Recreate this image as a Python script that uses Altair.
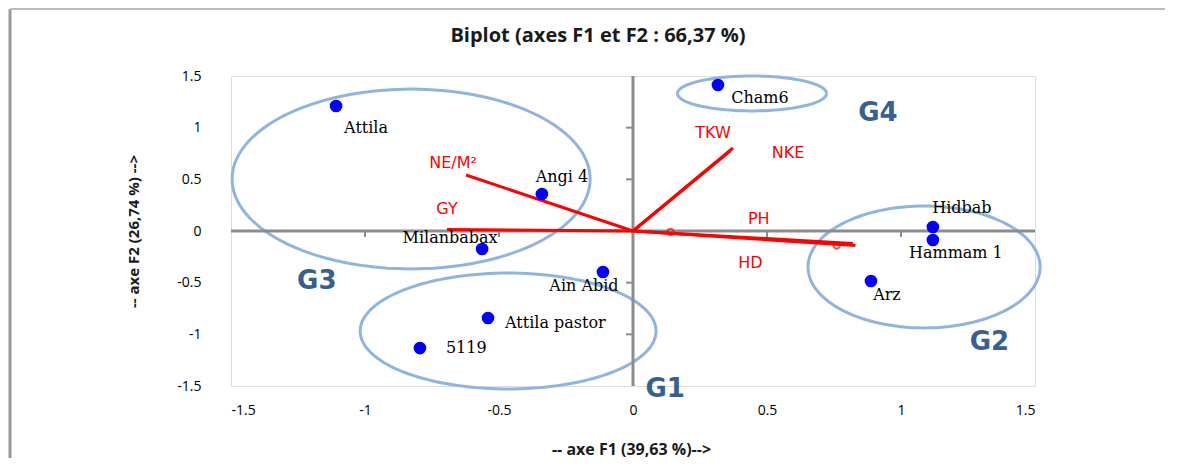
import altair as alt
import numpy as np
import pandas as pd

# ---- data ----
obs_names = ["Attila", "Angi 4", "Milanbabax", "Ain Abid", "Attila pastor",
             "5119", "Cham6", "Hidbab", "Hammam 1", "Arz"]
obs_f1 = [-1.108, -0.340, -0.563, -0.112, -0.541, -0.795, 0.317, 1.119, 1.119, 0.888]
obs_f2 = [1.21, 0.358, -0.174, -0.397, -0.842, -1.133, 1.413, 0.039, -0.087, -0.484]

var_names = ["NE/M²", "GY", "TKW", "NKE", "PH", "HD"]
var_f1 = [-0.623, -0.694, 0.373, 0.362, 0.82, 0.83]
var_f2 = [0.542, 0.015, 0.803, 0.774, -0.12, -0.14]

marker_f1 = [0.14, 0.76]
marker_f2 = [-0.01, -0.14]

group_names = ["G1", "G2", "G3", "G4"]
group_cx = [-0.466, 1.086, -0.828, 0.444]
group_cy = [-0.968, -0.348, 0.503, 1.331]
group_rx = [0.552, 0.433, 0.668, 0.278]
group_ry = [0.561, 0.590, 0.870, 0.169]
group_label_f1 = [0.12, 1.33, -1.18, 0.914]
group_label_f2 = [-1.53, -1.07, -0.48, 1.14]

tick_values = [-1.5, -1, -0.5, 0, 0.5, 1, 1.5]
inner_ticks = [-1, -0.5, 0.5, 1]

title_text = ["Biplot (axes F1 et F2 : 66,37 %)"]

# ---- label placement (pixels) ----
obs_label_dx = [30, 20, -32, -19, 17, 26, 42, 29, 23, 16]
obs_label_dy = [22, -17, -11, 14, 5, 0, 13, -19, 13, 14]
obs_label_align = ["center", "center", "center", "center", "left", "left",
                   "center", "center", "center", "center"]
var_label_dx = [-13, 0, -20, 58, -94, -105]
var_label_dy = [-12, -20, -15, 2, -24, 18]

# ---- tables ----
obs = pd.DataFrame({"name": obs_names, "f1": obs_f1, "f2": obs_f2})
var = pd.DataFrame({"name": var_names, "f1": var_f1, "f2": var_f2,
                    "x0": 0.0, "y0": 0.0})
markers = pd.DataFrame({"f1": marker_f1, "f2": marker_f2})

rows = []
theta = np.linspace(0, 2 * np.pi, 145)
for g, cx, cy, rx, ry in zip(group_names, group_cx, group_cy, group_rx, group_ry):
    for i, t in enumerate(theta):
        rows.append({"group": g, "i": i, "f1": cx + rx * np.cos(t), "f2": cy + ry * np.sin(t)})
ell = pd.DataFrame(rows)
glabels = pd.DataFrame({"name": group_names, "f1": group_label_f1, "f2": group_label_f2})

zero_lines = pd.DataFrame({"x": [-1.5, 0.0], "y": [0.0, -1.5], "x2": [1.5, 0.0], "y2": [0.0, 1.5]})
vticks = pd.DataFrame({"v": inner_ticks})

xs = alt.Scale(domain=[-1.5, 1.5], nice=False, zero=False)
ys = alt.Scale(domain=[-1.5, 1.5], nice=False, zero=False)

GRAY = "#8C8C8C"
AXFONT = "Open Sans"

x_axis = alt.Axis(values=tick_values, labelExpr="'' + datum.value", domain=False, ticks=False,
                  grid=False, labelPadding=17, labelFont=AXFONT, labelFontSize=14,
                  labelColor="#000000", title="-- axe F1 (39,63 %)-->", titleFont=AXFONT,
                  titleFontSize=16, titleFontWeight="bold", titleColor="#1a1a1a",
                  titleX=400, titleY=63, titleAlign="center", titleBaseline="middle")
y_axis = alt.Axis(values=tick_values, labelExpr="'' + datum.value", domain=False, ticks=False,
                  grid=False, labelPadding=30, labelFont=AXFONT, labelFontSize=14,
                  labelColor="#000000", title="-- axe F2 (26,74 %) -->", titleFont=AXFONT,
                  titleFontSize=15, titleFontWeight="bold", titleColor="#1a1a1a",
                  titleX=-98, titleY=155, titleAlign="center", titleBaseline="middle")

zero = alt.Chart(zero_lines).mark_rule(color=GRAY, strokeWidth=3).encode(
    x=alt.X("x:Q", scale=xs, axis=x_axis),
    y=alt.Y("y:Q", scale=ys, axis=y_axis),
    x2="x2:Q", y2="y2:Q")

ticks_v = alt.Chart(vticks).mark_rule(color=GRAY, strokeWidth=2, x2Offset=-7).encode(
    x=alt.datum(0, scale=xs), x2=alt.datum(0), y=alt.Y("v:Q", scale=ys))
ticks_h = alt.Chart(vticks).mark_rule(color=GRAY, strokeWidth=2, y2Offset=6).encode(
    y=alt.datum(0, scale=ys), y2=alt.datum(0), x=alt.X("v:Q", scale=xs))

ellipses = alt.Chart(ell).mark_line(color="#8DB4E2", strokeWidth=3).encode(
    x=alt.X("f1:Q", scale=xs), y=alt.Y("f2:Q", scale=ys),
    detail="group:N", order="i:Q")

arrows = alt.Chart(var).mark_rule(color="#FF0000", strokeWidth=3).encode(
    x=alt.X("x0:Q", scale=xs), y=alt.Y("y0:Q", scale=ys), x2="f1:Q", y2="f2:Q")

mk = alt.Chart(markers).mark_point(shape="circle", size=40, color="#FF0000",
                                   filled=False, strokeWidth=2).encode(
    x=alt.X("f1:Q", scale=xs), y=alt.Y("f2:Q", scale=ys))

points = alt.Chart(obs).mark_circle(size=160, color="#0000FF", opacity=1).encode(
    x=alt.X("f1:Q", scale=xs), y=alt.Y("f2:Q", scale=ys))

layers = [ellipses, zero, ticks_v, ticks_h, arrows, mk, points]

for i, n in enumerate(obs_names):
    layers.append(
        alt.Chart(obs.iloc[[i]]).mark_text(
            font="DejaVu Serif", fontSize=16, color="#000000",
            dx=obs_label_dx[i], dy=obs_label_dy[i], align=obs_label_align[i],
            baseline="middle").encode(
            x=alt.X("f1:Q", scale=xs), y=alt.Y("f2:Q", scale=ys), text="name:N"))

for i, n in enumerate(var_names):
    layers.append(
        alt.Chart(var.iloc[[i]]).mark_text(
            font="DejaVu Sans", fontSize=16, color="#FF0000",
            dx=var_label_dx[i], dy=var_label_dy[i], align="center",
            baseline="middle").encode(
            x=alt.X("f1:Q", scale=xs), y=alt.Y("f2:Q", scale=ys), text="name:N"))

glab = alt.Chart(glabels).mark_text(font="DejaVu Sans", fontSize=26, fontWeight="bold",
                                    color="#376092", align="center", baseline="middle").encode(
    x=alt.X("f1:Q", scale=xs), y=alt.Y("f2:Q", scale=ys), text="name:N")
layers.append(glab)

# chart title drawn as text above the plot area
ttl = pd.DataFrame({"t": title_text})
layers.append(alt.Chart(ttl).mark_text(font=AXFONT, fontSize=20, fontWeight="bold",
                                       color="#1a1a1a", align="center", baseline="middle").encode(
    x=alt.value(367), y=alt.value(-40), text="t:N"))

# outer chart frame (Excel chart area border)
border = pd.DataFrame({"a": [0]})
layers.append(alt.Chart(border).mark_rule(color="#999999", strokeWidth=3).encode(
    x=alt.value(-221), y=alt.value(-67), y2=alt.value(420)))
layers.append(alt.Chart(border).mark_rule(color="#BBBBBB", strokeWidth=2).encode(
    x=alt.value(-221), x2=alt.value(1000), y=alt.value(-67)))

chart = alt.layer(*layers).properties(
    width=804, height=310,
    padding={"left": 223, "top": 68, "right": 130, "bottom": 72},
    autosize=alt.AutoSizeParams(type="none"),
).configure_view(stroke=GRAY, strokeWidth=3).configure(background="white")

chart.save("out.html", embed_options={"renderer": "svg", "actions": False})
